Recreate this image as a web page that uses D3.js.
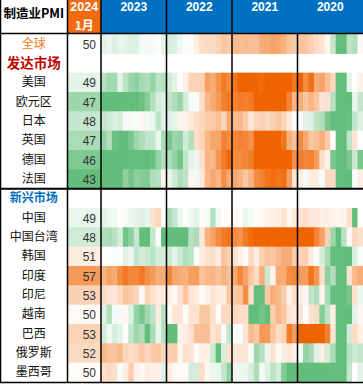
<!DOCTYPE html>
<html>
<head>
<meta charset="utf-8">
<script src="https://cdn.jsdelivr.net/npm/d3@7"></script>
<style>
body { margin: 0; background: #fff; }
svg { display: block; }
text { font-family: "Noto Sans CJK SC", "Liberation Sans", sans-serif; }
.num { font-family: "Liberation Sans", Arial, sans-serif; }
</style>
</head>
<body>
<div id="chart"></div>
<script>
var width = 363;
var height = 384;

// header labels
var years = ["2023", "2022", "2021", "2020"];
var months = ["12", "11", "10", "9", "8", "7", "6", "5", "4", "3", "2", "1"]; // newest on the left
var latestYear = "2024";
var latestMonth = "1月";

// values: [Jan 2024, Dec 2023 ... Jan 2023, Dec 2022 ... Jan 2022, Dec 2021 ... Jan 2021, Dec 2020 ... Jan 2020]
var pmiGlobal = [50.0,
    49.0, 49.3, 48.8, 49.2, 49.0, 48.7, 48.8, 49.6, 49.6, 49.6, 49.9, 49.1,
    48.6, 48.8, 49.4, 49.8, 50.3, 51.1, 52.2, 52.3, 52.3, 53.0, 53.7, 53.2,
    54.3, 54.2, 54.3, 54.1, 54.1, 55.4, 55.5, 56.0, 55.8, 55.0, 53.9, 53.5,
    53.8, 53.7, 53.0, 52.3, 51.8, 50.6, 47.9, 42.4, 39.8, 47.6, 47.2, 50.4];
var pmiUS = [49.1,
    47.4, 46.7, 46.7, 49.0, 47.6, 46.4, 46.0, 46.9, 47.1, 46.3, 47.7, 47.4,
    48.4, 49.0, 50.2, 50.9, 52.8, 52.8, 53.0, 56.1, 55.4, 57.1, 58.6, 57.6,
    58.8, 61.1, 60.8, 61.1, 59.9, 59.5, 60.6, 61.2, 60.7, 64.7, 60.8, 58.7,
    60.7, 57.5, 59.3, 55.4, 56.0, 54.2, 52.6, 43.1, 41.5, 49.1, 50.1, 50.9];
var pmiEurozone = [46.6,
    44.4, 44.2, 43.1, 43.4, 43.5, 42.7, 43.4, 44.8, 45.8, 47.3, 48.5, 48.8,
    47.8, 47.1, 46.4, 48.4, 49.6, 49.8, 52.1, 54.6, 55.5, 56.5, 58.2, 58.7,
    58.0, 58.4, 58.3, 58.6, 61.4, 62.8, 63.4, 63.1, 62.9, 62.5, 57.9, 54.8,
    55.2, 53.8, 54.8, 53.7, 51.7, 51.8, 47.4, 39.4, 33.4, 44.5, 49.2, 47.9];
var pmiJapan = [48.0,
    47.9, 48.3, 48.7, 48.5, 49.6, 49.6, 49.8, 50.6, 49.5, 49.2, 47.7, 48.9,
    48.9, 49.0, 50.7, 50.8, 51.5, 52.1, 52.7, 53.3, 53.5, 54.1, 52.7, 55.4,
    54.3, 54.5, 53.2, 51.5, 52.7, 53.0, 52.4, 53.0, 53.6, 52.7, 51.4, 49.8,
    50.0, 49.0, 48.7, 47.7, 47.2, 45.2, 40.1, 38.4, 41.9, 44.8, 47.8, 48.8];
var pmiUK = [47.0,
    46.2, 47.2, 44.8, 44.3, 43.0, 45.3, 46.5, 47.1, 47.8, 47.9, 49.3, 47.0,
    45.3, 46.5, 46.2, 48.4, 47.3, 52.1, 52.8, 54.6, 55.8, 55.8, 58.0, 57.3,
    57.9, 58.1, 57.8, 57.1, 60.3, 60.4, 63.9, 65.6, 60.9, 58.9, 55.1, 54.1,
    57.5, 55.6, 53.7, 54.1, 55.2, 53.3, 50.1, 40.7, 32.6, 47.8, 51.7, 50.0];
var pmiGermany = [45.5,
    43.3, 42.6, 40.8, 39.6, 39.1, 38.8, 40.6, 43.2, 44.5, 44.7, 46.3, 47.3,
    47.1, 46.2, 45.1, 47.8, 49.1, 49.3, 52.0, 54.8, 54.6, 56.9, 58.4, 59.8,
    57.4, 57.4, 57.8, 58.4, 62.6, 65.9, 65.1, 64.4, 66.2, 66.6, 60.7, 57.1,
    58.3, 57.8, 58.2, 56.4, 52.2, 51.0, 45.2, 36.6, 34.5, 45.4, 48.0, 45.3];
var pmiFrance = [43.1,
    42.1, 42.9, 42.8, 44.2, 46.0, 45.1, 46.0, 45.7, 45.6, 47.3, 47.4, 50.5,
    49.2, 48.3, 47.2, 47.7, 50.6, 49.5, 51.4, 54.6, 55.7, 54.7, 57.2, 55.5,
    55.6, 54.9, 53.6, 55.0, 57.5, 58.0, 59.0, 59.4, 58.9, 59.3, 56.1, 51.6,
    51.1, 49.6, 51.3, 51.2, 49.8, 52.4, 52.3, 40.6, 31.5, 43.2, 49.8, 51.1];
var pmiChina = [49.2,
    49.0, 49.4, 49.5, 50.2, 49.7, 49.3, 49.0, 48.8, 49.2, 51.9, 52.6, 50.1,
    47.0, 48.0, 49.2, 50.1, 49.4, 49.0, 50.2, 49.6, 47.4, 49.5, 50.2, 50.1,
    50.3, 50.1, 49.2, 49.6, 50.1, 50.4, 50.9, 51.0, 51.1, 51.9, 50.6, 51.3,
    51.9, 52.1, 51.4, 51.5, 51.0, 51.1, 50.9, 50.6, 50.8, 52.0, 35.7, 50.0];
var pmiTaiwan = [48.3,
    47.2, 47.0, 47.5, 48.5, 45.0, 46.0, 48.0, 44.5, 44.5, 48.0, 49.8, 44.3,
    44.0, 42.0, 41.5, 42.5, 47.5, 47.0, 51.5, 55.0, 56.0, 57.5, 58.5, 59.0,
    57.5, 57.0, 58.5, 59.5, 61.0, 61.5, 61.0, 62.0, 63.0, 62.0, 61.0, 60.5,
    60.5, 60.0, 60.0, 58.0, 56.0, 53.0, 46.5, 42.0, 47.5, 50.5, 52.5, 52.0];
var pmiKorea = [51.2,
    49.9, 50.0, 49.8, 49.9, 48.9, 49.4, 47.8, 48.4, 48.1, 47.6, 48.5, 48.5,
    48.2, 49.0, 48.2, 47.3, 47.6, 49.8, 51.3, 51.8, 52.1, 51.2, 53.8, 52.8,
    51.9, 50.9, 50.2, 52.4, 51.2, 53.0, 53.9, 53.7, 54.6, 55.3, 55.3, 53.2,
    52.9, 52.9, 51.2, 49.8, 48.5, 46.9, 43.4, 41.3, 41.6, 44.2, 48.7, 49.8];
var pmiIndia = [56.5,
    54.9, 56.0, 55.5, 57.5, 58.6, 57.7, 57.8, 58.7, 57.2, 56.4, 55.3, 55.4,
    57.8, 55.7, 55.3, 55.1, 56.2, 56.4, 53.9, 54.6, 54.7, 54.0, 54.9, 54.0,
    55.5, 57.6, 55.9, 53.7, 52.3, 55.3, 48.1, 50.8, 55.5, 55.4, 57.5, 57.7,
    56.4, 56.3, 58.9, 56.8, 52.0, 46.0, 47.2, 30.8, 27.4, 51.8, 54.5, 55.3];
var pmiIndonesia = [52.9,
    52.2, 51.7, 51.5, 52.3, 53.9, 53.3, 52.5, 50.3, 52.7, 51.9, 51.2, 51.3,
    50.9, 50.3, 51.8, 53.7, 51.7, 51.3, 50.2, 50.8, 51.9, 51.3, 51.2, 53.7,
    53.5, 53.9, 57.2, 52.2, 43.7, 40.1, 53.5, 55.3, 54.6, 53.2, 50.9, 52.2,
    51.3, 50.6, 47.8, 47.2, 50.8, 46.9, 39.1, 28.6, 27.5, 45.3, 51.9, 49.3];
var pmiVietnam = [50.3,
    48.9, 47.3, 49.6, 49.7, 50.5, 48.7, 46.2, 45.3, 46.7, 47.7, 51.2, 47.4,
    50.3, 51.6, 51.6, 50.2, 51.8, 51.8, 53.6, 53.6, 52.0, 50.2, 52.4, 52.4,
    52.5, 52.2, 52.1, 40.2, 40.2, 45.1, 44.1, 53.1, 54.7, 53.6, 51.6, 51.3,
    51.7, 49.9, 51.8, 52.2, 45.7, 47.6, 51.1, 42.7, 32.7, 41.9, 49.0, 50.6];
var pmiBrazil = [52.8,
    48.4, 49.4, 48.6, 49.0, 50.1, 47.8, 46.6, 47.1, 44.3, 47.0, 49.2, 47.5,
    44.2, 44.3, 50.8, 51.1, 51.9, 54.0, 54.1, 54.2, 51.8, 52.3, 49.6, 47.8,
    49.8, 49.8, 51.7, 54.4, 53.6, 56.7, 56.4, 53.7, 52.3, 52.8, 58.4, 56.5,
    61.5, 64.0, 66.7, 64.9, 64.7, 58.2, 51.6, 38.3, 36.0, 48.4, 52.3, 51.0];
var pmiRussia = [52.4,
    54.6, 53.8, 53.8, 54.5, 52.7, 52.1, 52.6, 53.5, 52.6, 53.2, 53.6, 52.6,
    53.0, 53.2, 50.7, 52.0, 51.7, 50.3, 50.9, 50.8, 48.2, 44.1, 48.6, 51.8,
    51.6, 51.7, 51.6, 49.8, 46.5, 47.5, 49.2, 51.9, 50.4, 51.1, 51.5, 50.9,
    49.7, 46.3, 46.9, 48.9, 51.1, 48.4, 47.0, 36.2, 31.3, 47.5, 48.2, 47.9];
var pmiMexico = [50.2,
    52.0, 52.5, 52.1, 49.8, 51.2, 53.2, 50.9, 50.5, 51.1, 51.0, 51.0, 48.9,
    51.3, 50.6, 50.3, 50.3, 48.5, 48.5, 52.2, 50.6, 49.3, 49.2, 48.0, 46.1,
    49.4, 49.4, 49.3, 48.6, 47.1, 49.6, 48.8, 47.6, 48.4, 45.6, 44.2, 43.0,
    42.4, 43.7, 43.6, 42.1, 41.3, 40.4, 38.6, 38.3, 35.0, 47.9, 50.0, 49.0];

var rows = [
    { name: "全球", values: pmiGlobal, kind: "global" },
    { name: "发达市场", values: null, kind: "dev" },
    { name: "美国", values: pmiUS },
    { name: "欧元区", values: pmiEurozone },
    { name: "日本", values: pmiJapan },
    { name: "英国", values: pmiUK },
    { name: "德国", values: pmiGermany },
    { name: "法国", values: pmiFrance },
    { name: "新兴市场", values: null, kind: "em" },
    { name: "中国", values: pmiChina },
    { name: "中国台湾", values: pmiTaiwan },
    { name: "韩国", values: pmiKorea },
    { name: "印度", values: pmiIndia },
    { name: "印尼", values: pmiIndonesia },
    { name: "越南", values: pmiVietnam },
    { name: "巴西", values: pmiBrazil },
    { name: "俄罗斯", values: pmiRussia },
    { name: "墨西哥", values: pmiMexico }
];

var monthKeys = [];
years.forEach(function(y) {
    months.forEach(function(m) { monthKeys.push(y + "-" + m); });
});

var labelRight = 67.5;
var latestRight = 101;
var headerH = 33.5;

var x = d3.scaleBand().domain(monthKeys).range([latestRight, width]);
var xYear = d3.scaleBand().domain(years).range([latestRight, width]);
var y = d3.scaleBand().domain(rows.map(function(d) { return d.name; })).range([34, 382]);
var color = d3.scaleLinear()
    .domain([44.5, 50, 60])
    .range(["#63be7b", "#ffffff", "#f06400"])
    .clamp(true);

var svg = d3.select("#chart").append("svg")
    .attr("width", width)
    .attr("height", height);

// header blocks
svg.append("rect").attr("x", labelRight).attr("y", 0)
    .attr("width", latestRight - labelRight).attr("height", headerH)
    .attr("fill", "#f06a10");
svg.append("rect").attr("x", latestRight).attr("y", 0)
    .attr("width", width - latestRight).attr("height", headerH)
    .attr("fill", "#0070c0");

svg.append("text")
    .attr("x", labelRight / 2).attr("y", 18)
    .attr("text-anchor", "middle")
    .attr("font-size", 12.5).attr("font-weight", "bold")
    .text("制造业PMI");

svg.append("text")
    .attr("x", (labelRight + latestRight) / 2).attr("y", 11)
    .attr("text-anchor", "middle").attr("class", "num")
    .attr("font-size", 12.5).attr("font-weight", "bold").attr("fill", "#fff")
    .text(latestYear);
svg.append("text")
    .attr("x", (labelRight + latestRight) / 2).attr("y", 30)
    .attr("text-anchor", "middle")
    .attr("font-size", 12).attr("font-weight", "bold").attr("fill", "#fff")
    .text(latestMonth);

svg.selectAll(".year")
    .data(years)
    .enter().append("text")
    .attr("class", "year num")
    .attr("x", function(d) { return xYear(d) + xYear.bandwidth() / 2; })
    .attr("y", 10.5)
    .attr("text-anchor", "middle")
    .attr("font-size", 12).attr("font-weight", "bold").attr("fill", "#fff")
    .text(function(d) { return d; });

// heat cells
var dataRows = rows.filter(function(d) { return d.values; });

var rowG = svg.selectAll(".row")
    .data(dataRows)
    .enter().append("g")
    .attr("class", "row")
    .attr("transform", function(d) { return "translate(0," + y(d.name) + ")"; });

rowG.selectAll(".cell")
    .data(function(d) { return d.values.slice(1); })
    .enter().append("rect")
    .attr("class", "cell")
    .attr("x", function(d, i) { return x(monthKeys[i]); })
    .attr("width", x.bandwidth() + 0.6)
    .attr("height", y.bandwidth() + 0.6)
    .attr("fill", function(d) { return color(d); });

rowG.append("rect")
    .attr("x", labelRight)
    .attr("width", latestRight - labelRight)
    .attr("height", y.bandwidth() + 0.6)
    .attr("fill", function(d) { return color(d.values[0]); });

rowG.append("text")
    .attr("class", "num")
    .attr("x", latestRight - 5)
    .attr("y", y.bandwidth() / 2 + 1)
    .attr("dominant-baseline", "central")
    .attr("text-anchor", "end")
    .attr("font-size", 12)
    .attr("fill", "#333")
    .text(function(d) { return Math.round(d.values[0]); });

// row labels
var labelStyle = {
    global: { fill: "#f47a20", weight: "normal", size: 12 },
    dev: { fill: "#c00000", weight: "bold", size: 13.5 },
    em: { fill: "#0070c0", weight: "bold", size: 12 }
};

svg.selectAll(".label")
    .data(rows)
    .enter().append("text")
    .attr("class", "label")
    .attr("x", labelRight / 2)
    .attr("y", function(d) { return y(d.name) + y.bandwidth() / 2 - 1.5; })
    .attr("dominant-baseline", "central")
    .attr("text-anchor", "middle")
    .attr("font-size", function(d) { return d.kind ? labelStyle[d.kind].size : 12; })
    .attr("font-weight", function(d) { return d.kind ? labelStyle[d.kind].weight : "normal"; })
    .attr("fill", function(d) { return d.kind ? labelStyle[d.kind].fill : "#111"; })
    .text(function(d) { return d.name; });

// grid lines
var lines = svg.append("g").attr("stroke", "#000").attr("stroke-width", 1.5);
var bottom = 382.5;
[labelRight, latestRight, xYear("2022"), xYear("2021")].forEach(function(v) {
    lines.append("line").attr("x1", v).attr("x2", v).attr("y1", 0).attr("y2", bottom);
});
lines.append("line").attr("x1", xYear("2020")).attr("x2", xYear("2020"))
    .attr("y1", headerH).attr("y2", bottom);
lines.append("line").attr("x1", 0).attr("x2", width).attr("y1", headerH).attr("y2", headerH);
lines.append("line").attr("x1", 0).attr("x2", width)
    .attr("y1", y("新兴市场")).attr("y2", y("新兴市场")).attr("stroke-width", 2);
lines.append("line").attr("x1", 0).attr("x2", width).attr("y1", bottom).attr("y2", bottom);
lines.append("line").attr("x1", 0.5).attr("x2", 0.5).attr("y1", 0).attr("y2", bottom);
</script>
</body>
</html>
